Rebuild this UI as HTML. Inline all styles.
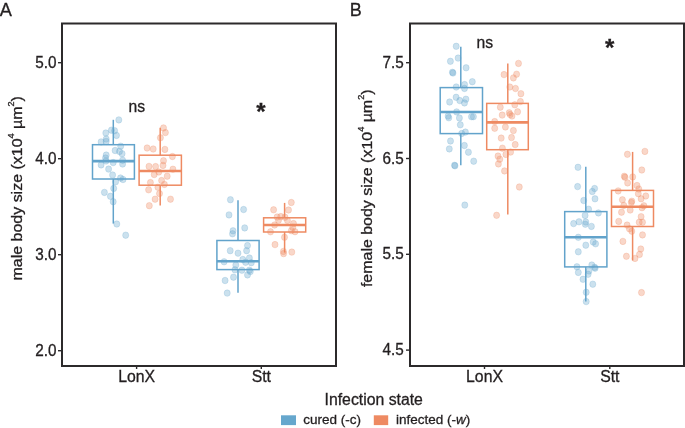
<!DOCTYPE html>
<html><head><meta charset="utf-8"><style>
html,body{margin:0;padding:0;background:#fff;}
body{width:685px;height:428px;overflow:hidden;}
svg{display:block;will-change:transform;font-family:"Liberation Sans",sans-serif;fill:#231f20;}
text{stroke:#231f20;stroke-width:0.3px;}
</style></head><body>
<svg width="685" height="428" viewBox="0 0 685 428" fill="#231f20">
<rect x="62" y="23.5" width="274" height="342.5" fill="none" stroke="#2c2a2b" stroke-width="2"/>
<rect x="410" y="23.5" width="274" height="342.5" fill="none" stroke="#2c2a2b" stroke-width="2"/>
<line x1="58" y1="62.7" x2="62" y2="62.7" stroke="#2c2a2b" stroke-width="1.4"/>
<text transform="translate(56.5,67.5) scale(1.0,1.06)" text-anchor="end" font-size="15.3">5.0</text>
<line x1="58" y1="158.7" x2="62" y2="158.7" stroke="#2c2a2b" stroke-width="1.4"/>
<text transform="translate(56.5,163.5) scale(1.0,1.06)" text-anchor="end" font-size="15.3">4.0</text>
<line x1="58" y1="254.7" x2="62" y2="254.7" stroke="#2c2a2b" stroke-width="1.4"/>
<text transform="translate(56.5,259.5) scale(1.0,1.06)" text-anchor="end" font-size="15.3">3.0</text>
<line x1="58" y1="350.7" x2="62" y2="350.7" stroke="#2c2a2b" stroke-width="1.4"/>
<text transform="translate(56.5,355.5) scale(1.0,1.06)" text-anchor="end" font-size="15.3">2.0</text>
<line x1="406" y1="62.7" x2="410" y2="62.7" stroke="#2c2a2b" stroke-width="1.4"/>
<text transform="translate(403.8,67.8) scale(1.0,1.06)" text-anchor="end" font-size="15.3">7.5</text>
<line x1="406" y1="158.5" x2="410" y2="158.5" stroke="#2c2a2b" stroke-width="1.4"/>
<text transform="translate(403.8,163.6) scale(1.0,1.06)" text-anchor="end" font-size="15.3">6.5</text>
<line x1="406" y1="254.3" x2="410" y2="254.3" stroke="#2c2a2b" stroke-width="1.4"/>
<text transform="translate(403.8,259.4) scale(1.0,1.06)" text-anchor="end" font-size="15.3">5.5</text>
<line x1="406" y1="350.1" x2="410" y2="350.1" stroke="#2c2a2b" stroke-width="1.4"/>
<text transform="translate(403.8,355.2) scale(1.0,1.06)" text-anchor="end" font-size="15.3">4.5</text>
<line x1="136.6" y1="366" x2="136.6" y2="369" stroke="#2c2a2b" stroke-width="1.4"/>
<text transform="translate(136.6,382) scale(1.0,1.08)" text-anchor="middle" font-size="15.8">LonX</text>
<line x1="261.3" y1="366" x2="261.3" y2="369" stroke="#2c2a2b" stroke-width="1.4"/>
<text transform="translate(261.3,382) scale(1.0,1.08)" text-anchor="middle" font-size="15.8">Stt</text>
<line x1="484.5" y1="366" x2="484.5" y2="369" stroke="#2c2a2b" stroke-width="1.4"/>
<text transform="translate(484.5,382) scale(1.0,1.08)" text-anchor="middle" font-size="15.8">LonX</text>
<line x1="609.8" y1="366" x2="609.8" y2="369" stroke="#2c2a2b" stroke-width="1.4"/>
<text transform="translate(609.8,382) scale(1.0,1.08)" text-anchor="middle" font-size="15.8">Stt</text>
<text transform="translate(22,188.3) rotate(-90) scale(1.065,1)" text-anchor="middle" font-size="15">male body size (x10<tspan font-size="8.5" dy="-8">4</tspan><tspan dy="8"> µm</tspan><tspan font-size="8.5" dy="-8">2</tspan><tspan dy="8">)</tspan></text>
<text transform="translate(372,188.3) rotate(-90) scale(1.065,1)" text-anchor="middle" font-size="15">female body size (x10<tspan font-size="8.5" dy="-8">4</tspan><tspan dy="8"> µm</tspan><tspan font-size="8.5" dy="-8">2</tspan><tspan dy="8">)</tspan></text>
<text transform="translate(-0.2,15.6)" font-size="18.2">A</text>
<text transform="translate(349.8,15.6)" font-size="18">B</text>
<text transform="translate(136.7,112)" text-anchor="middle" font-size="15.7">ns</text>
<text transform="translate(484.9,47.6)" text-anchor="middle" font-size="15.7">ns</text>
<g fill="#66A7CD" fill-opacity="0.34" stroke="#66A7CD" stroke-opacity="0.34" stroke-width="0.7"><ellipse cx="118.8" cy="119.9" rx="3.05" ry="3.25"/><ellipse cx="111.4" cy="130.2" rx="3.05" ry="3.25"/><ellipse cx="114.6" cy="130.7" rx="3.05" ry="3.25"/><ellipse cx="105.8" cy="133.0" rx="3.05" ry="3.25"/><ellipse cx="116.5" cy="135.4" rx="3.05" ry="3.25"/><ellipse cx="106.2" cy="139.1" rx="3.05" ry="3.25"/><ellipse cx="101.1" cy="141.9" rx="3.05" ry="3.25"/><ellipse cx="106.2" cy="141.4" rx="3.05" ry="3.25"/><ellipse cx="120.7" cy="146.2" rx="3.05" ry="3.25"/><ellipse cx="115.1" cy="150.5" rx="3.05" ry="3.25"/><ellipse cx="119.5" cy="151.5" rx="3.05" ry="3.25"/><ellipse cx="122.1" cy="153.7" rx="3.05" ry="3.25"/><ellipse cx="106.2" cy="155.1" rx="3.05" ry="3.25"/><ellipse cx="105.5" cy="158.0" rx="3.05" ry="3.25"/><ellipse cx="106.0" cy="161.0" rx="3.05" ry="3.25"/><ellipse cx="113.2" cy="162.6" rx="3.05" ry="3.25"/><ellipse cx="122.6" cy="160.2" rx="3.05" ry="3.25"/><ellipse cx="122.6" cy="164.0" rx="3.05" ry="3.25"/><ellipse cx="101.1" cy="164.9" rx="3.05" ry="3.25"/><ellipse cx="108.6" cy="169.1" rx="3.05" ry="3.25"/><ellipse cx="112.6" cy="175.0" rx="3.05" ry="3.25"/><ellipse cx="120.5" cy="178.0" rx="3.05" ry="3.25"/><ellipse cx="123.0" cy="179.5" rx="3.05" ry="3.25"/><ellipse cx="115.6" cy="181.8" rx="3.05" ry="3.25"/><ellipse cx="113.7" cy="188.4" rx="3.05" ry="3.25"/><ellipse cx="104.4" cy="192.4" rx="3.05" ry="3.25"/><ellipse cx="110.4" cy="196.3" rx="3.05" ry="3.25"/><ellipse cx="113.2" cy="201.7" rx="3.05" ry="3.25"/><ellipse cx="116.8" cy="224.0" rx="3.05" ry="3.25"/><ellipse cx="125.7" cy="235.2" rx="3.05" ry="3.25"/></g>
<g fill="#EE8A62" fill-opacity="0.34" stroke="#EE8A62" stroke-opacity="0.34" stroke-width="0.7"><ellipse cx="163.5" cy="127.9" rx="3.05" ry="3.25"/><ellipse cx="165.4" cy="132.6" rx="3.05" ry="3.25"/><ellipse cx="160.4" cy="137.8" rx="3.05" ry="3.25"/><ellipse cx="147.1" cy="148.0" rx="3.05" ry="3.25"/><ellipse cx="153.2" cy="149.0" rx="3.05" ry="3.25"/><ellipse cx="164.9" cy="149.4" rx="3.05" ry="3.25"/><ellipse cx="172.4" cy="156.5" rx="3.05" ry="3.25"/><ellipse cx="163.5" cy="160.7" rx="3.05" ry="3.25"/><ellipse cx="163.0" cy="165.4" rx="3.05" ry="3.25"/><ellipse cx="149.0" cy="166.4" rx="3.05" ry="3.25"/><ellipse cx="155.6" cy="166.6" rx="3.05" ry="3.25"/><ellipse cx="172.9" cy="169.2" rx="3.05" ry="3.25"/><ellipse cx="158.8" cy="172.0" rx="3.05" ry="3.25"/><ellipse cx="154.2" cy="174.5" rx="3.05" ry="3.25"/><ellipse cx="167.2" cy="176.2" rx="3.05" ry="3.25"/><ellipse cx="161.6" cy="180.5" rx="3.05" ry="3.25"/><ellipse cx="150.4" cy="182.6" rx="3.05" ry="3.25"/><ellipse cx="164.4" cy="184.4" rx="3.05" ry="3.25"/><ellipse cx="157.9" cy="187.2" rx="3.05" ry="3.25"/><ellipse cx="148.6" cy="189.8" rx="3.05" ry="3.25"/><ellipse cx="159.5" cy="193.6" rx="3.05" ry="3.25"/><ellipse cx="155.1" cy="199.2" rx="3.05" ry="3.25"/><ellipse cx="170.5" cy="199.2" rx="3.05" ry="3.25"/><ellipse cx="149.3" cy="205.7" rx="3.05" ry="3.25"/></g>
<g fill="#66A7CD" fill-opacity="0.34" stroke="#66A7CD" stroke-opacity="0.34" stroke-width="0.7"><ellipse cx="230.4" cy="199.7" rx="3.05" ry="3.25"/><ellipse cx="243.6" cy="209.5" rx="3.05" ry="3.25"/><ellipse cx="229.0" cy="214.9" rx="3.05" ry="3.25"/><ellipse cx="244.7" cy="227.9" rx="3.05" ry="3.25"/><ellipse cx="233.0" cy="230.8" rx="3.05" ry="3.25"/><ellipse cx="232.5" cy="233.8" rx="3.05" ry="3.25"/><ellipse cx="247.5" cy="245.6" rx="3.05" ry="3.25"/><ellipse cx="230.2" cy="250.7" rx="3.05" ry="3.25"/><ellipse cx="238.0" cy="253.2" rx="3.05" ry="3.25"/><ellipse cx="246.6" cy="250.7" rx="3.05" ry="3.25"/><ellipse cx="249.4" cy="258.0" rx="3.05" ry="3.25"/><ellipse cx="242.8" cy="259.5" rx="3.05" ry="3.25"/><ellipse cx="224.1" cy="261.8" rx="3.05" ry="3.25"/><ellipse cx="245.6" cy="262.3" rx="3.05" ry="3.25"/><ellipse cx="251.3" cy="262.7" rx="3.05" ry="3.25"/><ellipse cx="235.8" cy="265.1" rx="3.05" ry="3.25"/><ellipse cx="234.9" cy="269.8" rx="3.05" ry="3.25"/><ellipse cx="241.9" cy="270.2" rx="3.05" ry="3.25"/><ellipse cx="249.4" cy="270.2" rx="3.05" ry="3.25"/><ellipse cx="250.3" cy="271.6" rx="3.05" ry="3.25"/><ellipse cx="247.5" cy="274.9" rx="3.05" ry="3.25"/><ellipse cx="233.5" cy="277.2" rx="3.05" ry="3.25"/><ellipse cx="225.1" cy="280.5" rx="3.05" ry="3.25"/><ellipse cx="227.2" cy="293.1" rx="3.05" ry="3.25"/></g>
<g fill="#EE8A62" fill-opacity="0.34" stroke="#EE8A62" stroke-opacity="0.34" stroke-width="0.7"><ellipse cx="291.3" cy="202.5" rx="3.05" ry="3.25"/><ellipse cx="273.6" cy="209.8" rx="3.05" ry="3.25"/><ellipse cx="288.5" cy="210.0" rx="3.05" ry="3.25"/><ellipse cx="277.1" cy="217.0" rx="3.05" ry="3.25"/><ellipse cx="280.8" cy="216.6" rx="3.05" ry="3.25"/><ellipse cx="285.0" cy="217.2" rx="3.05" ry="3.25"/><ellipse cx="278.5" cy="220.3" rx="3.05" ry="3.25"/><ellipse cx="287.4" cy="220.4" rx="3.05" ry="3.25"/><ellipse cx="274.6" cy="225.0" rx="3.05" ry="3.25"/><ellipse cx="293.5" cy="223.6" rx="3.05" ry="3.25"/><ellipse cx="292.8" cy="227.4" rx="3.05" ry="3.25"/><ellipse cx="291.3" cy="230.7" rx="3.05" ry="3.25"/><ellipse cx="295.0" cy="231.7" rx="3.05" ry="3.25"/><ellipse cx="270.5" cy="231.8" rx="3.05" ry="3.25"/><ellipse cx="284.5" cy="237.3" rx="3.05" ry="3.25"/><ellipse cx="275.0" cy="244.6" rx="3.05" ry="3.25"/><ellipse cx="283.4" cy="251.4" rx="3.05" ry="3.25"/><ellipse cx="283.6" cy="253.6" rx="3.05" ry="3.25"/><ellipse cx="291.8" cy="252.1" rx="3.05" ry="3.25"/></g>
<g fill="#66A7CD" fill-opacity="0.34" stroke="#66A7CD" stroke-opacity="0.34" stroke-width="0.7"><ellipse cx="456.2" cy="46.3" rx="3.05" ry="3.25"/><ellipse cx="458.1" cy="58.1" rx="3.05" ry="3.25"/><ellipse cx="450.4" cy="61.3" rx="3.05" ry="3.25"/><ellipse cx="466.1" cy="67.8" rx="3.05" ry="3.25"/><ellipse cx="452.4" cy="72.3" rx="3.05" ry="3.25"/><ellipse cx="453.0" cy="73.0" rx="3.05" ry="3.25"/><ellipse cx="472.3" cy="81.7" rx="3.05" ry="3.25"/><ellipse cx="456.2" cy="87.0" rx="3.05" ry="3.25"/><ellipse cx="464.6" cy="84.6" rx="3.05" ry="3.25"/><ellipse cx="464.5" cy="88.4" rx="3.05" ry="3.25"/><ellipse cx="456.1" cy="97.3" rx="3.05" ry="3.25"/><ellipse cx="459.8" cy="100.6" rx="3.05" ry="3.25"/><ellipse cx="465.9" cy="99.2" rx="3.05" ry="3.25"/><ellipse cx="464.5" cy="102.9" rx="3.05" ry="3.25"/><ellipse cx="449.6" cy="102.0" rx="3.05" ry="3.25"/><ellipse cx="456.6" cy="111.9" rx="3.05" ry="3.25"/><ellipse cx="448.1" cy="116.1" rx="3.05" ry="3.25"/><ellipse cx="448.8" cy="117.8" rx="3.05" ry="3.25"/><ellipse cx="459.4" cy="118.0" rx="3.05" ry="3.25"/><ellipse cx="471.5" cy="116.7" rx="3.05" ry="3.25"/><ellipse cx="473.4" cy="116.7" rx="3.05" ry="3.25"/><ellipse cx="460.3" cy="124.8" rx="3.05" ry="3.25"/><ellipse cx="461.7" cy="133.5" rx="3.05" ry="3.25"/><ellipse cx="465.4" cy="132.1" rx="3.05" ry="3.25"/><ellipse cx="450.5" cy="141.0" rx="3.05" ry="3.25"/><ellipse cx="464.4" cy="145.5" rx="3.05" ry="3.25"/><ellipse cx="449.3" cy="148.9" rx="3.05" ry="3.25"/><ellipse cx="468.4" cy="152.2" rx="3.05" ry="3.25"/><ellipse cx="473.7" cy="161.2" rx="3.05" ry="3.25"/><ellipse cx="454.5" cy="165.3" rx="3.05" ry="3.25"/><ellipse cx="455.0" cy="165.8" rx="3.05" ry="3.25"/><ellipse cx="464.8" cy="205.1" rx="3.05" ry="3.25"/></g>
<g fill="#EE8A62" fill-opacity="0.34" stroke="#EE8A62" stroke-opacity="0.34" stroke-width="0.7"><ellipse cx="518.5" cy="63.4" rx="3.05" ry="3.25"/><ellipse cx="504.0" cy="74.6" rx="3.05" ry="3.25"/><ellipse cx="516.6" cy="74.2" rx="3.05" ry="3.25"/><ellipse cx="513.4" cy="77.9" rx="3.05" ry="3.25"/><ellipse cx="509.8" cy="87.0" rx="3.05" ry="3.25"/><ellipse cx="515.5" cy="88.5" rx="3.05" ry="3.25"/><ellipse cx="520.9" cy="93.7" rx="3.05" ry="3.25"/><ellipse cx="520.4" cy="101.6" rx="3.05" ry="3.25"/><ellipse cx="514.8" cy="104.8" rx="3.05" ry="3.25"/><ellipse cx="500.3" cy="107.2" rx="3.05" ry="3.25"/><ellipse cx="517.6" cy="111.8" rx="3.05" ry="3.25"/><ellipse cx="502.2" cy="115.1" rx="3.05" ry="3.25"/><ellipse cx="509.2" cy="112.8" rx="3.05" ry="3.25"/><ellipse cx="510.1" cy="114.6" rx="3.05" ry="3.25"/><ellipse cx="512.0" cy="116.0" rx="3.05" ry="3.25"/><ellipse cx="494.7" cy="121.6" rx="3.05" ry="3.25"/><ellipse cx="494.7" cy="128.3" rx="3.05" ry="3.25"/><ellipse cx="505.4" cy="127.0" rx="3.05" ry="3.25"/><ellipse cx="513.4" cy="130.6" rx="3.05" ry="3.25"/><ellipse cx="501.2" cy="138.1" rx="3.05" ry="3.25"/><ellipse cx="511.5" cy="137.6" rx="3.05" ry="3.25"/><ellipse cx="515.2" cy="144.6" rx="3.05" ry="3.25"/><ellipse cx="502.4" cy="148.2" rx="3.05" ry="3.25"/><ellipse cx="510.6" cy="152.1" rx="3.05" ry="3.25"/><ellipse cx="505.9" cy="154.4" rx="3.05" ry="3.25"/><ellipse cx="498.0" cy="156.1" rx="3.05" ry="3.25"/><ellipse cx="499.8" cy="159.2" rx="3.05" ry="3.25"/><ellipse cx="498.4" cy="163.9" rx="3.05" ry="3.25"/><ellipse cx="504.5" cy="170.9" rx="3.05" ry="3.25"/><ellipse cx="519.3" cy="187.0" rx="3.05" ry="3.25"/><ellipse cx="496.6" cy="215.3" rx="3.05" ry="3.25"/></g>
<g fill="#66A7CD" fill-opacity="0.34" stroke="#66A7CD" stroke-opacity="0.34" stroke-width="0.7"><ellipse cx="578.0" cy="167.3" rx="3.05" ry="3.25"/><ellipse cx="577.6" cy="186.6" rx="3.05" ry="3.25"/><ellipse cx="594.6" cy="188.5" rx="3.05" ry="3.25"/><ellipse cx="592.3" cy="191.5" rx="3.05" ry="3.25"/><ellipse cx="595.0" cy="198.8" rx="3.05" ry="3.25"/><ellipse cx="583.7" cy="200.5" rx="3.05" ry="3.25"/><ellipse cx="588.6" cy="209.2" rx="3.05" ry="3.25"/><ellipse cx="598.4" cy="212.9" rx="3.05" ry="3.25"/><ellipse cx="585.1" cy="215.4" rx="3.05" ry="3.25"/><ellipse cx="573.6" cy="223.6" rx="3.05" ry="3.25"/><ellipse cx="579.0" cy="221.8" rx="3.05" ry="3.25"/><ellipse cx="585.8" cy="222.0" rx="3.05" ry="3.25"/><ellipse cx="585.3" cy="224.2" rx="3.05" ry="3.25"/><ellipse cx="591.4" cy="226.4" rx="3.05" ry="3.25"/><ellipse cx="578.3" cy="237.3" rx="3.05" ry="3.25"/><ellipse cx="593.2" cy="242.0" rx="3.05" ry="3.25"/><ellipse cx="595.6" cy="243.8" rx="3.05" ry="3.25"/><ellipse cx="585.8" cy="245.2" rx="3.05" ry="3.25"/><ellipse cx="578.3" cy="251.8" rx="3.05" ry="3.25"/><ellipse cx="576.9" cy="266.8" rx="3.05" ry="3.25"/><ellipse cx="591.8" cy="265.0" rx="3.05" ry="3.25"/><ellipse cx="594.6" cy="267.3" rx="3.05" ry="3.25"/><ellipse cx="595.1" cy="268.2" rx="3.05" ry="3.25"/><ellipse cx="578.3" cy="272.4" rx="3.05" ry="3.25"/><ellipse cx="589.0" cy="271.0" rx="3.05" ry="3.25"/><ellipse cx="588.1" cy="274.3" rx="3.05" ry="3.25"/><ellipse cx="583.0" cy="279.3" rx="3.05" ry="3.25"/><ellipse cx="592.8" cy="284.2" rx="3.05" ry="3.25"/><ellipse cx="586.2" cy="292.3" rx="3.05" ry="3.25"/><ellipse cx="586.2" cy="301.6" rx="3.05" ry="3.25"/></g>
<g fill="#EE8A62" fill-opacity="0.34" stroke="#EE8A62" stroke-opacity="0.34" stroke-width="0.7"><ellipse cx="644.9" cy="151.4" rx="3.05" ry="3.25"/><ellipse cx="627.4" cy="154.3" rx="3.05" ry="3.25"/><ellipse cx="641.8" cy="170.0" rx="3.05" ry="3.25"/><ellipse cx="624.3" cy="176.3" rx="3.05" ry="3.25"/><ellipse cx="625.0" cy="177.3" rx="3.05" ry="3.25"/><ellipse cx="632.7" cy="176.9" rx="3.05" ry="3.25"/><ellipse cx="627.6" cy="182.9" rx="3.05" ry="3.25"/><ellipse cx="637.0" cy="185.5" rx="3.05" ry="3.25"/><ellipse cx="638.8" cy="189.0" rx="3.05" ry="3.25"/><ellipse cx="618.2" cy="190.9" rx="3.05" ry="3.25"/><ellipse cx="638.3" cy="193.7" rx="3.05" ry="3.25"/><ellipse cx="645.8" cy="196.0" rx="3.05" ry="3.25"/><ellipse cx="641.1" cy="198.8" rx="3.05" ry="3.25"/><ellipse cx="622.4" cy="199.8" rx="3.05" ry="3.25"/><ellipse cx="631.8" cy="201.2" rx="3.05" ry="3.25"/><ellipse cx="631.3" cy="202.6" rx="3.05" ry="3.25"/><ellipse cx="623.8" cy="205.4" rx="3.05" ry="3.25"/><ellipse cx="643.9" cy="205.8" rx="3.05" ry="3.25"/><ellipse cx="642.0" cy="207.7" rx="3.05" ry="3.25"/><ellipse cx="630.2" cy="210.0" rx="3.05" ry="3.25"/><ellipse cx="621.5" cy="212.2" rx="3.05" ry="3.25"/><ellipse cx="641.1" cy="216.7" rx="3.05" ry="3.25"/><ellipse cx="618.7" cy="221.4" rx="3.05" ry="3.25"/><ellipse cx="639.2" cy="222.3" rx="3.05" ry="3.25"/><ellipse cx="642.5" cy="222.3" rx="3.05" ry="3.25"/><ellipse cx="627.1" cy="225.1" rx="3.05" ry="3.25"/><ellipse cx="629.4" cy="228.8" rx="3.05" ry="3.25"/><ellipse cx="631.8" cy="231.2" rx="3.05" ry="3.25"/><ellipse cx="642.5" cy="234.9" rx="3.05" ry="3.25"/><ellipse cx="622.9" cy="241.4" rx="3.05" ry="3.25"/><ellipse cx="640.8" cy="249.0" rx="3.05" ry="3.25"/><ellipse cx="639.5" cy="254.4" rx="3.05" ry="3.25"/><ellipse cx="626.4" cy="256.3" rx="3.05" ry="3.25"/><ellipse cx="635.0" cy="258.4" rx="3.05" ry="3.25"/><ellipse cx="641.5" cy="292.6" rx="3.05" ry="3.25"/></g>
<text transform="translate(261,120.2)" text-anchor="middle" font-size="24" font-weight="bold">*</text>
<text transform="translate(609.7,56)" text-anchor="middle" font-size="24" font-weight="bold">*</text>
<line x1="113.3" y1="119.8" x2="113.3" y2="144.7" stroke="#62A3CB" stroke-width="1.5"/>
<line x1="113.3" y1="179" x2="113.3" y2="223.6" stroke="#62A3CB" stroke-width="1.5"/>
<rect x="92.5" y="144.7" width="41.9" height="34.3" fill="none" stroke="#62A3CB" stroke-width="1.5"/>
<line x1="92.5" y1="161.1" x2="134.4" y2="161.1" stroke="#62A3CB" stroke-width="2.6"/>
<line x1="160.2" y1="127.8" x2="160.2" y2="155.2" stroke="#EE8A62" stroke-width="1.5"/>
<line x1="160.2" y1="185.2" x2="160.2" y2="205.4" stroke="#EE8A62" stroke-width="1.5"/>
<rect x="139.1" y="155.2" width="42.3" height="30.0" fill="none" stroke="#EE8A62" stroke-width="1.5"/>
<line x1="139.1" y1="171" x2="181.4" y2="171" stroke="#EE8A62" stroke-width="2.6"/>
<line x1="238" y1="200.2" x2="238" y2="240.5" stroke="#62A3CB" stroke-width="1.5"/>
<line x1="238" y1="269.6" x2="238" y2="292.7" stroke="#62A3CB" stroke-width="1.5"/>
<rect x="216.9" y="240.5" width="42.2" height="29.1" fill="none" stroke="#62A3CB" stroke-width="1.5"/>
<line x1="216.9" y1="261.3" x2="259.1" y2="261.3" stroke="#62A3CB" stroke-width="2.6"/>
<line x1="284.6" y1="202.9" x2="284.6" y2="217.8" stroke="#EE8A62" stroke-width="1.5"/>
<line x1="284.6" y1="232" x2="284.6" y2="252.6" stroke="#EE8A62" stroke-width="1.5"/>
<rect x="263.6" y="217.8" width="42.1" height="14.2" fill="none" stroke="#EE8A62" stroke-width="1.5"/>
<line x1="263.6" y1="225" x2="305.7" y2="225" stroke="#EE8A62" stroke-width="2.6"/>
<line x1="460.8" y1="46.8" x2="460.8" y2="87.6" stroke="#62A3CB" stroke-width="1.5"/>
<line x1="460.8" y1="133.6" x2="460.8" y2="165.3" stroke="#62A3CB" stroke-width="1.5"/>
<rect x="440.2" y="87.6" width="42.3" height="46.0" fill="none" stroke="#62A3CB" stroke-width="1.5"/>
<line x1="440.2" y1="112" x2="482.5" y2="112" stroke="#62A3CB" stroke-width="2.6"/>
<line x1="507.8" y1="63.5" x2="507.8" y2="103.4" stroke="#EE8A62" stroke-width="1.5"/>
<line x1="507.8" y1="149.7" x2="507.8" y2="214.6" stroke="#EE8A62" stroke-width="1.5"/>
<rect x="486.7" y="103.4" width="41.6" height="46.3" fill="none" stroke="#EE8A62" stroke-width="1.5"/>
<line x1="486.7" y1="122.4" x2="528.3" y2="122.4" stroke="#EE8A62" stroke-width="2.6"/>
<line x1="585.8" y1="166.8" x2="585.8" y2="211.6" stroke="#62A3CB" stroke-width="1.5"/>
<line x1="585.8" y1="266.9" x2="585.8" y2="301.5" stroke="#62A3CB" stroke-width="1.5"/>
<rect x="564.7" y="211.6" width="42.2" height="55.3" fill="none" stroke="#62A3CB" stroke-width="1.5"/>
<line x1="564.7" y1="237.2" x2="606.9" y2="237.2" stroke="#62A3CB" stroke-width="2.6"/>
<line x1="632.6" y1="151.9" x2="632.6" y2="190.4" stroke="#EE8A62" stroke-width="1.5"/>
<line x1="632.6" y1="226.5" x2="632.6" y2="260.4" stroke="#EE8A62" stroke-width="1.5"/>
<rect x="611.5" y="190.4" width="42.0" height="36.1" fill="none" stroke="#EE8A62" stroke-width="1.5"/>
<line x1="611.5" y1="206.8" x2="653.5" y2="206.8" stroke="#EE8A62" stroke-width="2.6"/>
<text transform="translate(373.7,404.5)" text-anchor="middle" font-size="15.8">Infection state</text>
<rect x="281" y="415.3" width="15" height="9.8" fill="#66A7CD"/>
<text transform="translate(303.3,424)" font-size="13.5">cured (-c)</text>
<rect x="373.8" y="415.3" width="14.4" height="9.8" fill="#EE8A62"/>
<text transform="translate(396,424)" font-size="13.5">infected (-<tspan font-style="italic">w</tspan>)</text>
</svg>
</body></html>
